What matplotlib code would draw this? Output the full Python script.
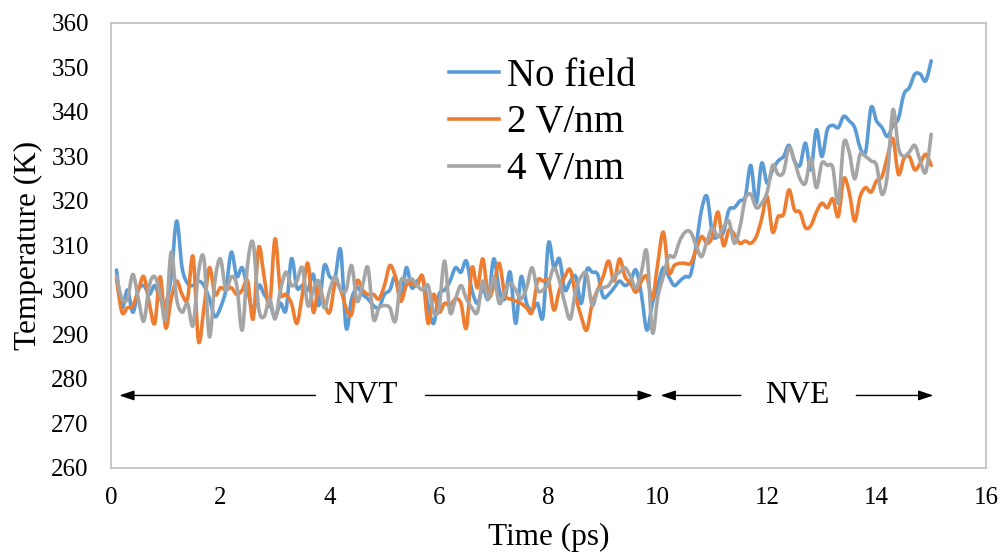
import numpy as np
import matplotlib
matplotlib.use("Agg")
import matplotlib.pyplot as plt
from matplotlib.path import Path
from matplotlib.patches import PathPatch
from matplotlib.lines import Line2D

# ---------------------
# Data
# ---------------------
time_ps = [round(0.1 * i, 1) for i in range(1, 151)]

no_field = [
    304.5, 296, 300, 295, 300, 301, 299, 301, 298, 297,
    303, 315.5, 305, 301.5, 301, 302, 301, 298, 294, 296,
    300, 308.5, 303, 305, 300, 295, 301, 299, 297, 294,
    297, 295.5, 307, 300.5, 301, 300, 303.5, 296.5, 305.5, 303,
    303, 309, 291.5, 298, 300.5, 299, 298, 296.5, 296, 299,
    300, 303, 297.5, 305, 300.5, 302, 302.5, 296.5, 292.5, 299,
    300, 302, 305, 304, 306.5, 300, 297, 300.5, 298, 307,
    300, 298, 304, 292.5, 303, 297, 295.5, 297, 294, 310.5,
    305, 307, 300, 302, 303, 297, 304.5, 304, 303.5, 298.5,
    299, 300.5, 302, 301, 302, 304.5, 299, 291, 297, 301,
    305, 303, 301, 302, 303, 303.5, 310, 318, 321, 312.5,
    312, 313, 318, 318.5, 320, 321, 328, 319.5, 328.5, 324,
    327, 329, 330, 332.5, 329, 328, 333, 327, 336, 330,
    336, 337, 336.5, 339, 338, 336.5, 332, 331, 341, 338,
    336.5, 334.5, 337, 338.5, 344, 345.5, 348.5, 348.5, 347, 351.5,
]

field_2 = [
    302.5, 295, 296, 296.5, 300, 303, 297, 292.5, 303, 291.5,
    298, 302, 299, 298, 307.5, 288.5, 296, 305, 299, 300.5,
    300, 300.5, 299, 300, 302, 293.5, 309.5, 303, 296.5, 311.5,
    299.5, 299, 297, 292.5, 299, 306, 295, 301, 297, 295,
    301.5, 300, 296, 294.5, 302, 300, 299, 299, 298, 301,
    305.5, 303, 297.5, 301, 301.5, 301, 303, 292.5, 299, 295,
    297, 296.5, 298, 297, 291.5, 305, 300.5, 307, 298.5, 301,
    306, 299, 298, 297.5, 297, 296, 295, 302, 302, 302,
    295.5, 300, 303, 304.5, 298.5, 294, 291, 297, 300, 303,
    306.5, 302, 307, 303, 301.5, 299.5, 302, 303, 298, 306,
    313, 304, 305.5, 306, 306, 306, 309, 312, 310.5, 312,
    317.5, 310, 313.5, 312.5, 310.5, 311, 310.5, 312, 316, 321,
    313, 316.5, 317, 322.5, 318, 317.5, 314, 314.5, 317.5, 319.5,
    318.5, 320.5, 316.5, 325, 322, 315.5, 321, 323, 322, 324.5,
    325.5, 330, 334, 326, 329.5, 330, 327, 328.5, 330.5, 328,
]

field_4 = [
    303, 298, 298, 303.5, 298, 293, 301, 303, 299, 293.5,
    308.5, 298, 295, 297, 292, 304, 307, 289.5, 302, 307,
    300, 303, 301, 291, 306, 310.5, 296, 294, 298, 293.5,
    300, 304, 301, 302, 305, 296.5, 300, 302, 296, 300,
    303, 300, 300, 305.5, 297.5, 301, 305, 293.5, 296, 296.5,
    296, 293, 302, 302, 302.5, 301, 300, 301, 295, 296,
    306.5, 295, 298, 301, 298, 296, 295, 302, 298, 303,
    297, 299.5, 301.5, 300, 298, 300.5, 305, 300, 300, 301.5,
    305, 302, 297, 293.5, 300, 303, 303.5, 296.5, 300, 300.5,
    301, 303, 304, 305, 303, 300.5, 304, 308.5, 290.5, 298.5,
    303, 307.5, 307.5, 311, 313, 313, 310, 307.5, 311, 314,
    312, 314, 315.5, 310.5, 314, 320.5, 321.5, 318.5, 319.5, 322,
    328, 326, 326.5, 332, 329, 325, 324, 329.5, 323, 328.5,
    328, 327.5, 319.5, 333, 331, 325, 330.5, 330, 329, 328,
    321.5, 326, 340.5, 332, 330, 331, 332.5, 329, 326.5, 335,
]

series_names = ["No field", "2 V/nm", "4 V/nm"]
series_colors = ["#5B9BD5", "#ED7D31", "#A5A5A5"]

x_ticks = list(range(0, 17, 2))
y_ticks = list(range(260, 361, 10))


# ---------------------
# Helpers
# ---------------------
def smooth_path(x, y):
    """Catmull-Rom style Bezier path through the points (like Excel smoothed lines)."""
    x = np.asarray(x, dtype=float)
    y = np.asarray(y, dtype=float)
    pts = np.column_stack([x, y])
    n = len(pts)
    verts = [pts[0]]
    codes = [Path.MOVETO]
    for i in range(n - 1):
        p0 = pts[i - 1] if i > 0 else pts[i]
        p1 = pts[i]
        p2 = pts[i + 1]
        p3 = pts[i + 2] if i + 2 < n else pts[i + 1]
        c1 = p1 + (p2 - p0) / 6.0
        c2 = p2 - (p3 - p1) / 6.0
        verts.extend([c1, c2, p2])
        codes.extend([Path.CURVE4] * 3)
    return Path(verts, codes)


# ---------------------
# Plot
# ---------------------
plt.rcParams["font.family"] = ["Liberation Serif", "DejaVu Serif"]

fig = plt.figure(figsize=(10.01, 5.58), dpi=100)
ax = fig.add_axes([0.1109, 0.1613, 0.874, 0.7975])

lw = 2.6
for vals, color in zip([no_field, field_2, field_4], series_colors):
    patch = PathPatch(smooth_path(time_ps, vals), facecolor="none",
                      edgecolor=color, lw=lw, capstyle="round",
                      joinstyle="round", transform=ax.transData)
    ax.add_patch(patch)

ax.set_xlim(0, 16)
ax.set_ylim(260, 360)
ax.set_xticks(x_ticks)
ax.set_yticks(y_ticks)
ax.tick_params(axis="both", length=0, labelsize=18)
ax.tick_params(axis="x", pad=14)
ax.tick_params(axis="y", pad=16)
for sp in ax.spines.values():
    sp.set_color("#BFBFBF")
    sp.set_linewidth(1.2)

ax.set_xlabel("Time (ps)", fontsize=22.5, labelpad=10)
ax.set_ylabel("Temperature (K)", fontsize=22.5, labelpad=6)

# NVT / NVE arrows
arrow_y = 276.3
arrow_kw = dict(arrowstyle="-|>,head_length=0.9,head_width=0.3", color="black", lw=1.0,
                shrinkA=0, shrinkB=0)
ax.annotate("", xy=(0.15, arrow_y), xytext=(3.74, arrow_y), arrowprops=arrow_kw)
ax.annotate("", xy=(9.91, arrow_y), xytext=(5.75, arrow_y), arrowprops=arrow_kw)
ax.text(4.65, arrow_y, "NVT", fontsize=22.5, ha="center", va="center")
ax.annotate("", xy=(10.05, arrow_y), xytext=(11.52, arrow_y), arrowprops=arrow_kw)
ax.annotate("", xy=(15.04, arrow_y), xytext=(13.63, arrow_y), arrowprops=arrow_kw)
ax.text(12.55, arrow_y, "NVE", fontsize=22.5, ha="center", va="center")

handles = [Line2D([0], [0], color=c, lw=lw) for c in series_colors]
ax.legend(handles, series_names, loc="upper left", bbox_to_anchor=(0.3863, 0.922),
          frameon=False, fontsize=28, handlelength=1.29, handletextpad=0.2,
          labelspacing=0.25, borderaxespad=0, borderpad=0)

fig.savefig("out.png", dpi=100)
